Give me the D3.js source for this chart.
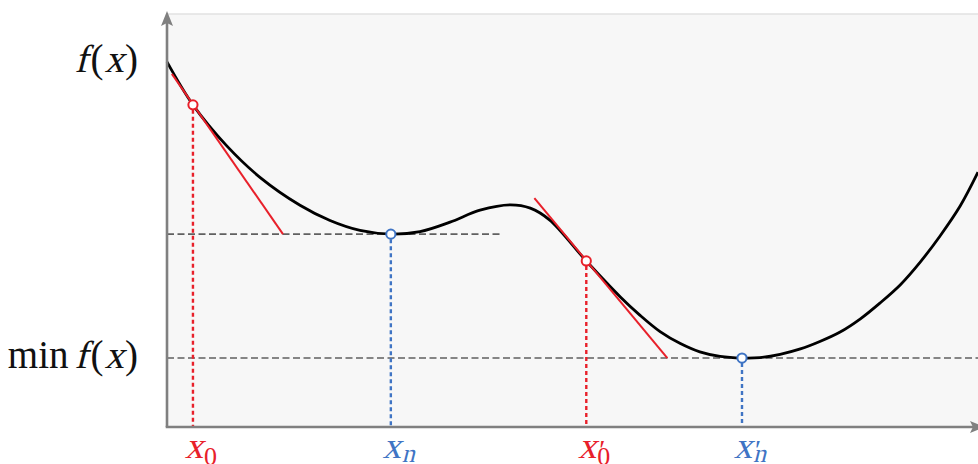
<!DOCTYPE html>
<html><head><meta charset="utf-8">
<script src="https://cdn.jsdelivr.net/npm/d3@7"></script>
<style>html,body{margin:0;padding:0;background:#fff;overflow:hidden}
text{font-family:"Liberation Serif",serif}</style>
</head><body><svg id="chart" width="978" height="464"></svg>
<script>
// ---- data (abstract units) ----
const curveX = [0, 0.32, 0.74, 1.15, 1.64, 2.01, 2.38, 2.76, 3.12, 3.49, 3.86, 4.23, 4.48, 4.72, 5.17, 5.59, 5.83, 6.08, 6.33, 6.57, 6.82, 7.09, 7.31, 7.56, 7.81, 8.05, 8.30, 8.55, 8.79, 9.04, 9.29, 9.53, 9.78, 10];
const curveY = [8.84, 7.80, 6.80, 6.04, 5.37, 5.00, 4.76, 4.67, 4.73, 4.96, 5.25, 5.38, 5.30, 5.01, 4.02, 3.15, 2.71, 2.31, 2.02, 1.82, 1.71, 1.67, 1.68, 1.76, 1.89, 2.07, 2.30, 2.62, 3.00, 3.44, 4.00, 4.62, 5.35, 6.17];

const iterX = [0.32, 2.76, 5.17, 7.09];
const iterY = [7.80, 4.67, 4.02, 1.67];
const iterKind = ["start", "end", "start", "end"];
const iterBase = ["x", "x", "x", "x"];
const iterPrime = [false, false, true, true];
const iterSub = ["0", "n", "0", "n"];

const tangentX1 = [0.06, 4.53];
const tangentY1 = [8.55, 5.54];
const tangentX2 = [1.43, 6.17];
const tangentY2 = [4.67, 1.67];

const levelY = [4.67, 1.67];
const levelEndX = [4.11, 10];

const yLabelValues = [8.84, 1.67];
const yLabels = [["", "f", "(", "x", ")"], ["min", "f", "(", "x", ")"]];

// ---- drawing ----
const mL = 167, mR = 978, mT = 14, mB = 427;
const RED = "#e8202a", BLUE = "#3f74c4", GRAY = "#808080", DASH = "#606060";
const SKEW = -14;

const svg = d3.select("#chart");
const x = d3.scaleLinear().domain([0, 10]).range([mL, mR]);
const y = d3.scaleLinear().domain([0, 10]).range([mB, mT]);

// background
svg.append("rect").attr("x", mL).attr("y", mT).attr("width", mR - mL).attr("height", mB - mT).attr("fill", "#f7f7f7");
svg.append("line").attr("x1", mL).attr("x2", mR).attr("y1", mT).attr("y2", mT).attr("stroke", "#e2e2e2").attr("stroke-width", 1.5);

// level dashed lines
levelY.forEach((v, i) => {
  svg.append("line")
    .attr("x1", x(0)).attr("x2", x(levelEndX[i]))
    .attr("y1", y(v)).attr("y2", y(v))
    .attr("stroke", DASH).attr("stroke-width", 1.6).attr("stroke-dasharray", "7,3.5");
});

// dotted verticals
iterX.forEach((v, i) => {
  svg.append("line")
    .attr("x1", x(v)).attr("x2", x(v))
    .attr("y1", y(iterY[i]) + 5).attr("y2", y(0))
    .attr("stroke", iterKind[i] === "start" ? RED : BLUE)
    .attr("stroke-width", 2.4).attr("stroke-dasharray", "4,3");
});

// curve
const pts = curveX.map((v, i) => [v, curveY[i]]);
svg.append("path").datum(pts)
  .attr("d", d3.line().x(d => x(d[0])).y(d => y(d[1])).curve(d3.curveCatmullRom.alpha(0.5)))
  .attr("fill", "none").attr("stroke", "#000").attr("stroke-width", 2.8);

// tangents
tangentX1.forEach((v, i) => {
  svg.append("line")
    .attr("x1", x(v)).attr("y1", y(tangentY1[i]))
    .attr("x2", x(tangentX2[i])).attr("y2", y(tangentY2[i]))
    .attr("stroke", RED).attr("stroke-width", 2);
});

// axes
const xAxis = d3.axisBottom(x).tickValues([]).tickSizeOuter(0);
const gx = svg.append("g").attr("transform", `translate(0,${mB})`).call(xAxis);
gx.select(".domain").attr("stroke", GRAY).attr("stroke-width", 2.6).attr("d", `M${mL - 1.3},0H${mR}`);
const yAxis = d3.axisLeft(y).tickValues([]).tickSizeOuter(0);
const gy = svg.append("g").attr("transform", `translate(${mL},0)`).call(yAxis);
gy.select(".domain").attr("stroke", GRAY).attr("stroke-width", 2.6).attr("d", `M0,${mB}V${mT + 6}`);

// arrowheads
svg.append("path").attr("d", `M${mL},${mT - 3} L${mL + 6},${mT + 12} L${mL},${mT + 9} L${mL - 6},${mT + 12} Z`).attr("fill", GRAY);
svg.append("path").attr("d", `M${mR + 7},${mB} L${mR - 8},${mB - 6} L${mR - 5},${mB} L${mR - 8},${mB + 6} Z`).attr("fill", GRAY);

// iterate points
iterX.forEach((v, i) => {
  svg.append("circle").attr("cx", x(v)).attr("cy", y(iterY[i])).attr("r", 4.6)
    .attr("fill", "#fff").attr("stroke", iterKind[i] === "start" ? RED : BLUE).attr("stroke-width", 2);
});

// math-like text: runs of upright / slanted serif text
function mathRun(parent, parts, color) {
  const g = parent.append("g");
  let cx = 0;
  parts.forEach(p => {
    cx += p.dx || 0;
    const t = g.append("text").attr("font-size", p.size).attr("fill", color).text(p.t)
      .attr("transform", `translate(${cx},${p.dy || 0})` + (p.it ? ` skewX(${SKEW})` : ""));
    cx += t.node().getComputedTextLength() + (p.after || 0);
  });
  return { g, width: cx };
}

// x labels
iterX.forEach((v, i) => {
  const c = iterKind[i] === "start" ? RED : BLUE;
  const px = x(v);
  svg.append("text").attr("text-anchor", "middle")
    .attr("transform", `translate(${px + 1},458) skewX(${SKEW})`)
    .attr("font-size", 37).attr("fill", c).text(iterBase[i]);
  if (iterPrime[i]) {
    svg.append("text").attr("x", px + 13).attr("y", 459)
      .attr("font-size", 28).attr("fill", c).text("\u2032");
  }
  const isN = iterSub[i] === "n";
  svg.append("text").attr("transform", `translate(${px + 11},${isN ? 462 : 465})` + (isN ? ` skewX(${SKEW})` : ""))
    .attr("font-size", 26).attr("fill", c).text(iterSub[i]);
});

// y labels
yLabelValues.forEach((v, i) => {
  const p = yLabels[i];
  const parts = [];
  if (p[0]) parts.push({ t: p[0], size: 39, after: 4 });
  parts.push({ t: p[1], size: 39, it: true, dx: 2 });
  parts.push({ t: p[2], size: 39, dx: 3 });
  parts.push({ t: p[3], size: 39, it: true, dx: 1 });
  parts.push({ t: p[4], size: 39, dx: 1 });
  const r = mathRun(svg, parts, "#111");
  r.g.attr("transform", `translate(${138 - r.width},${y(v) + 10})`);
});
</script>
</body></html>
